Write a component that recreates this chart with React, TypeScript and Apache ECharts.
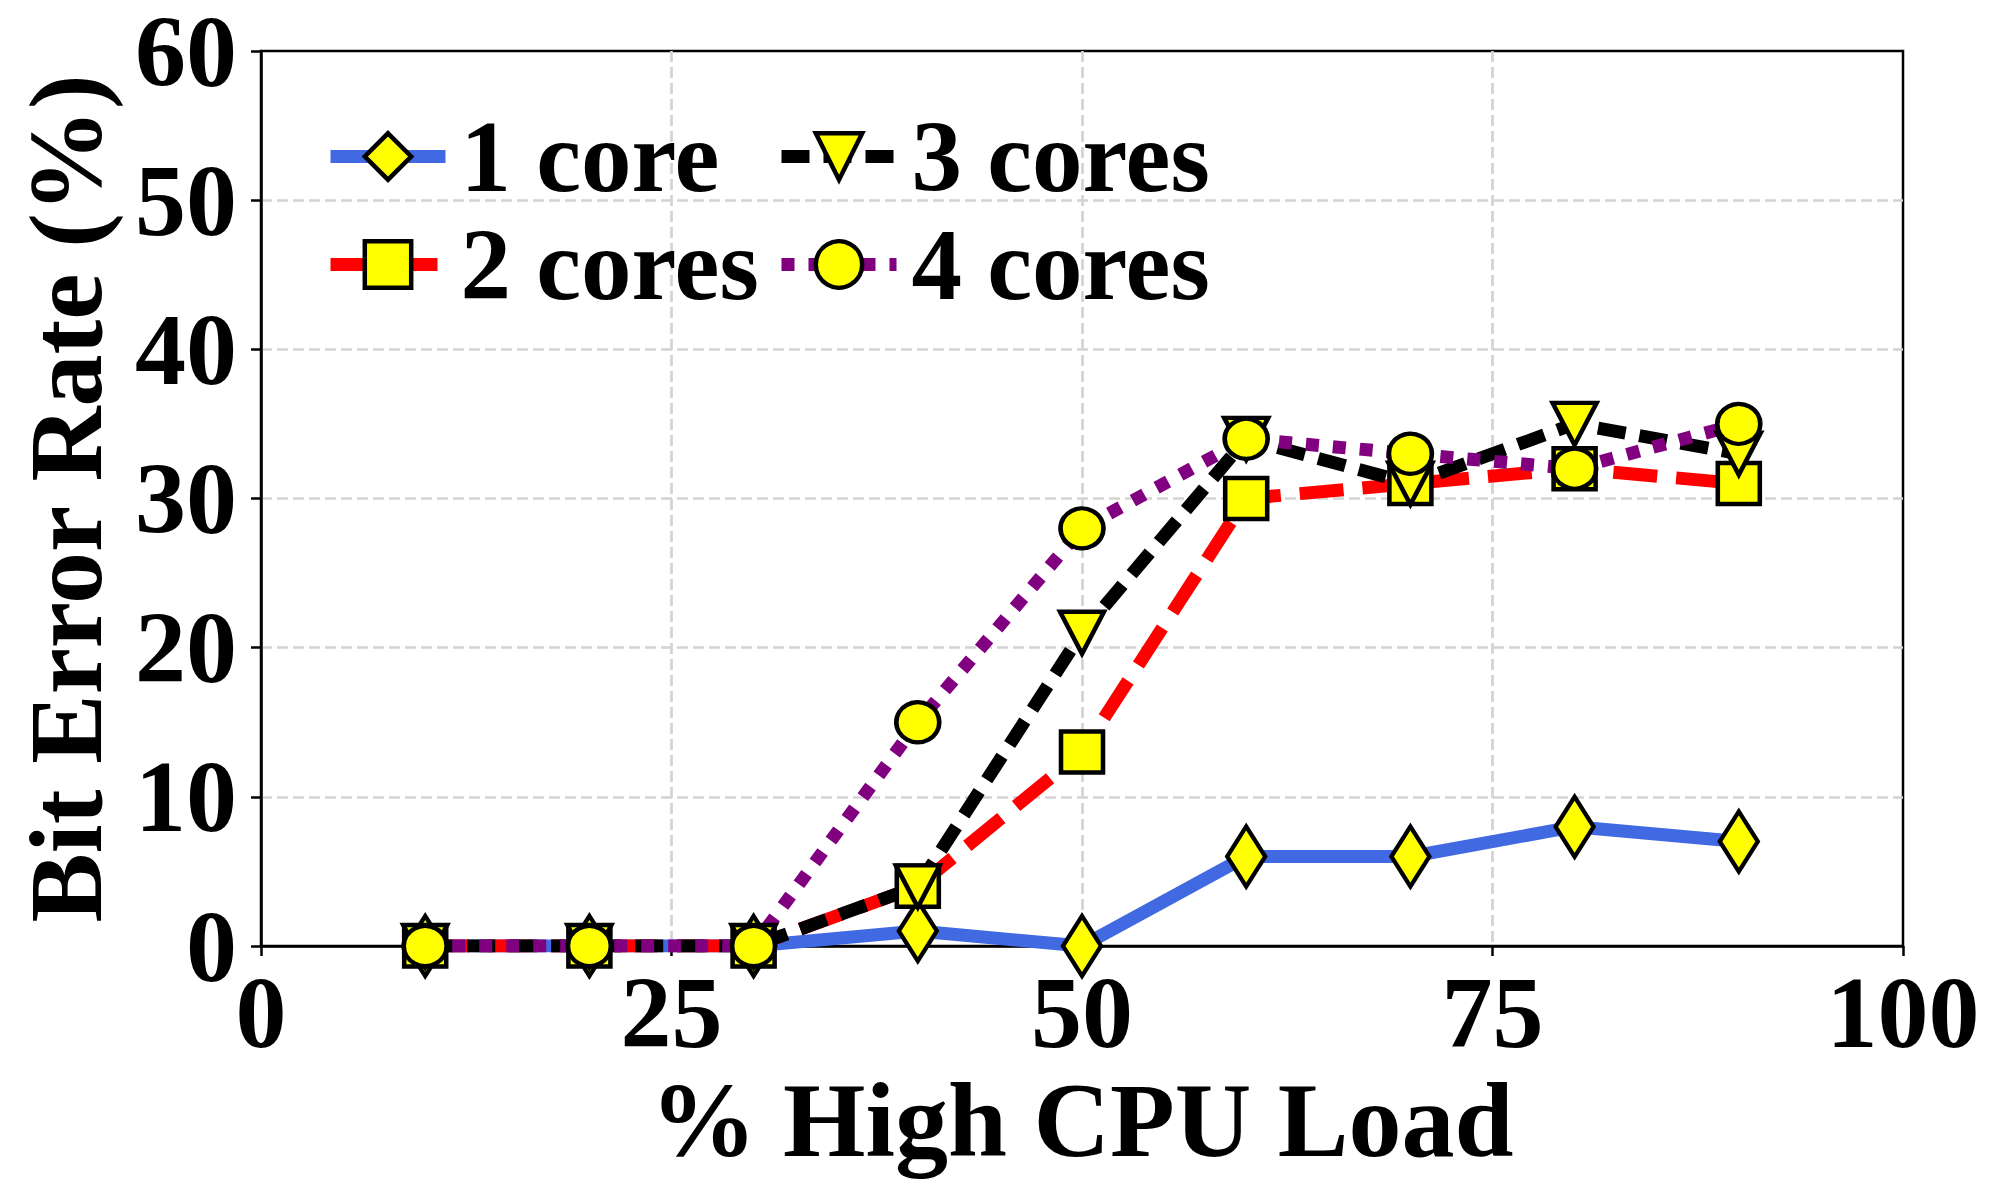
import React, { useEffect, useRef } from "react";
import * as echarts from "echarts";

const xValues = [10, 20, 30, 40, 50, 60, 70, 80, 90];
const oneCore = [0, 0, 0, 1, 0, 6, 6, 8, 7];
const twoCores = [0, 0, 0, 4, 13, 30, 31, 32, 31];
const threeCores = [0, 0, 0, 4, 21, 34, 31, 35, 33];
const fourCores = [0, 0, 0, 15, 28, 34, 33, 32, 35];
const seriesNames = ["1 core", "2 cores", "3 cores", "4 cores"];

const FONT = "'Liberation Serif', 'DejaVu Serif', serif";

function pairs(ys: number[]) {
  return xValues.map((x, i) => [x, ys[i]]);
}

const THIN_DIAMOND = "path://M0,0 L30,50 0,100 -30,50 Z";

export default function App() {
  const ref = useRef<HTMLDivElement>(null);
  useEffect(() => {
    if (!ref.current) return;
    const chart = echarts.init(ref.current, undefined, { renderer: "svg" });
    const marker = { color: "#ffff00", borderColor: "#000", borderWidth: 4.5 };
    const styles: Record<string, any> = {
      "1 core": { color: "#4169e1", width: 13, type: "solid" },
      "2 cores": { color: "#ff0000", width: 13, type: [44, 19] },
      "3 cores": { color: "#000000", width: 13, type: [28, 14] },
      "4 cores": { color: "#800080", width: 13, type: [13, 14] },
    };
    const legendItem = (name: string) => ({
      name,
      lineStyle: { ...styles[name] },
      itemStyle: { ...marker },
    });
    const legendCommon = {
      orient: "vertical" as const,
      top: 106,
      padding: 0,
      itemGap: 7,
      itemWidth: 115,
      itemHeight: 58,
      textStyle: {
        fontFamily: FONT,
        fontWeight: "bold" as const,
        fontSize: 101,
        color: "#000",
        padding: [0, 0, 0, 10],
      },
      selectedMode: false,
    };
    const splitLine = {
      show: true,
      showMinLine: false,
      showMaxLine: false,
      lineStyle: { color: "#d3d3d3", type: [11, 5], width: 2.7 },
    };
    chart.setOption({
      animation: false,
      backgroundColor: "#fff",
      grid: {
        left: 261,
        right: 97,
        top: 51,
        bottom: 254,
        containLabel: false,
        outerBoundsMode: "none",
        show: true,
        borderColor: "#000",
        borderWidth: 2.5,
        backgroundColor: "transparent",
      },
      legend: [
        { ...legendCommon, left: 324, data: [legendItem(seriesNames[0]), legendItem(seriesNames[1])] },
        { ...legendCommon, left: 775, data: [legendItem(seriesNames[2]), legendItem(seriesNames[3])] },
      ],
      xAxis: {
        type: "value",
        min: 0,
        max: 100,
        interval: 25,
        name: "% High CPU Load",
        nameLocation: "middle",
        nameGap: 118,
        nameTextStyle: { fontFamily: FONT, fontWeight: "bold", fontSize: 106, color: "#000" },
        axisLine: { show: true, lineStyle: { color: "#000", width: 2.5 } },
        axisTick: { show: true, length: 10, lineStyle: { color: "#000", width: 2.5 } },
        axisLabel: { fontFamily: FONT, fontWeight: "bold", fontSize: 102, lineHeight: 80, color: "#000", margin: 26 },
        splitLine,
      },
      yAxis: {
        type: "value",
        min: 0,
        max: 60,
        interval: 10,
        name: "Bit Error Rate (%)",
        nameLocation: "middle",
        nameGap: 148,
        nameTextStyle: { fontFamily: FONT, fontWeight: "bold", fontSize: 104, lineHeight: 96, color: "#000" },
        axisLine: { show: true, lineStyle: { color: "#000", width: 2.5 } },
        axisTick: { show: true, length: 10, lineStyle: { color: "#000", width: 2.5 } },
        axisLabel: { fontFamily: FONT, fontWeight: "bold", fontSize: 102, lineHeight: 80, color: "#000", margin: 24 },
        splitLine,
      },
      series: [
        {
          name: seriesNames[0],
          type: "line",
          data: pairs(oneCore),
          symbol: THIN_DIAMOND,
          symbolKeepAspect: false,
          symbolSize: [38, 60],
          lineStyle: styles["1 core"],
          itemStyle: marker,
          color: "#4169e1",
        },
        {
          name: seriesNames[1],
          type: "line",
          data: pairs(twoCores),
          symbol: "rect",
          symbolSize: [42, 41],
          lineStyle: styles["2 cores"],
          itemStyle: marker,
          color: "#ff0000",
        },
        {
          name: seriesNames[2],
          type: "line",
          data: pairs(threeCores),
          symbol: "triangle",
          symbolRotate: 180,
          symbolSize: [44, 42],
          lineStyle: styles["3 cores"],
          itemStyle: marker,
          color: "#000000",
        },
        {
          name: seriesNames[3],
          type: "line",
          data: pairs(fourCores),
          symbol: "circle",
          symbolSize: [43, 40],
          lineStyle: styles["4 cores"],
          itemStyle: marker,
          color: "#800080",
        },
      ],
    });
    return () => chart.dispose();
  }, []);
  return (
    <div
      ref={ref}
      style={{ position: "fixed", left: 0, top: 0, width: 2000, height: 1200, background: "#fff" }}
    />
  );
}
